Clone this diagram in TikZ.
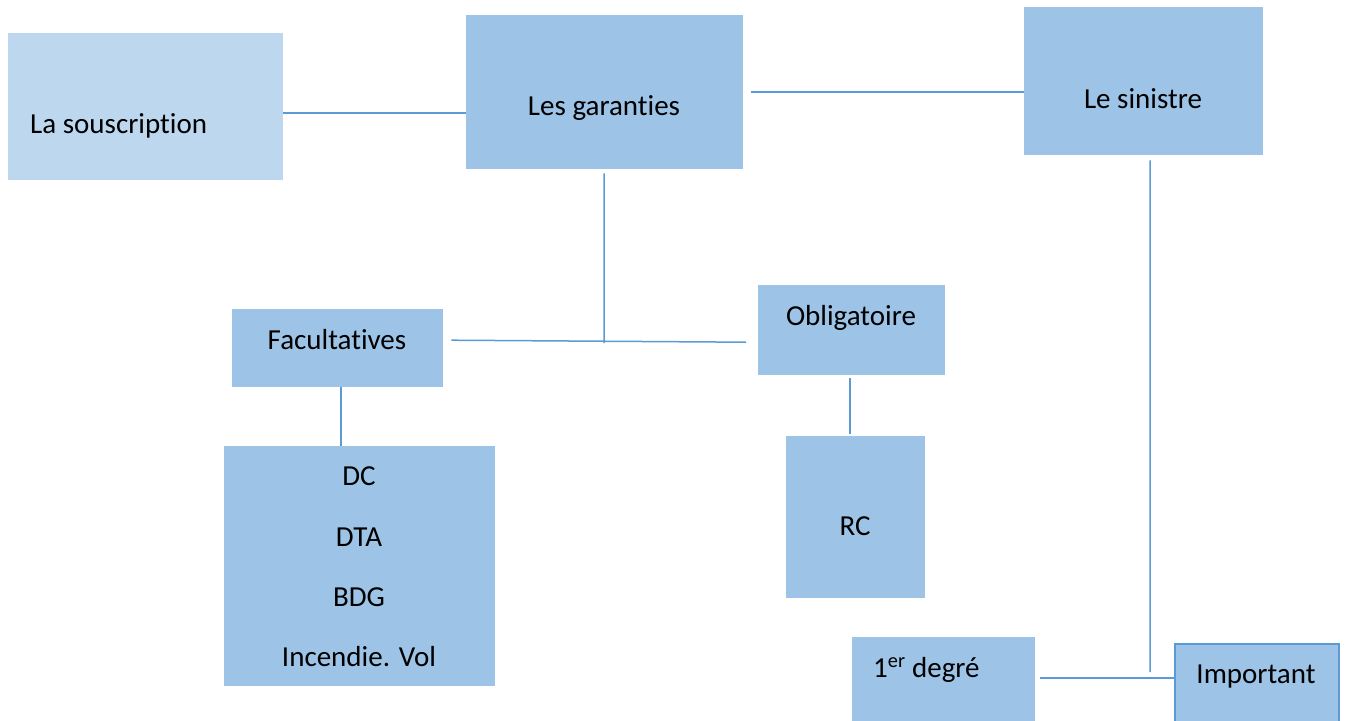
\documentclass[tikz,border=0pt]{standalone}
\usepackage{fontspec}
\setmainfont[Ligatures=NoCommon]{Carlito}
\definecolor{boxfill}{HTML}{9DC3E6}
\definecolor{boxlight}{HTML}{BDD7EE}
\definecolor{linec}{HTML}{5B9BD5}
\tikzset{
  box/.style={fill=boxfill, draw=none, anchor=north west, inner sep=0pt},
  lbl/.style={anchor=base, inner sep=0pt, font=\fontsize{29}{35}\selectfont},
  conn/.style={draw=linec, line width=1.5pt},
}
\begin{document}
\begin{tikzpicture}[x=1pt,y=-1pt]
\useasboundingbox (0,0) rectangle (1346,720);
% boxes
\node[box, fill=boxlight, minimum width=275pt, minimum height=147pt] (sous) at (8,33) {};
\node[box, minimum width=277pt, minimum height=154pt] (gar) at (466,15) {};
\node[box, minimum width=239pt, minimum height=148pt] (sin) at (1024,7) {};
\node[box, minimum width=211pt, minimum height=78pt] (fac) at (232,309) {};
\node[box, minimum width=187pt, minimum height=90pt] (obl) at (758,285) {};
\node[box, minimum width=271pt, minimum height=240pt] (dc) at (224,446) {};
\node[box, minimum width=139pt, minimum height=162pt] (rc) at (786,436) {};
\node[box, minimum width=183pt, minimum height=110pt] (deg) at (852,637) {};
\node[box, draw=linec, line width=2pt, minimum width=164pt, minimum height=110pt] (imp) at (1174,643) {};
% labels
\node[lbl, anchor=base west] (tsous) at (30,133) {La souscription};
\node[lbl] (tgar) at (604,115) {Les garanties};
\node[lbl] (tsin) at (1143,108) {Le sinistre};
\node[lbl] (tfac) at (337,349) {Facultatives};
\node[lbl] (tobl) at (851,325) {Obligatoire};
\node[lbl] (tdc) at (359,485) {DC};
\node[lbl] (tdta) at (359,546) {DTA};
\node[lbl] (tbdg) at (359,606) {BDG};
\node[lbl] (tinc) at (359,666) {Incendie. Vol};
\node[lbl] (trc) at (855,535) {RC};
\node[lbl, anchor=base west] (tdeg) at (873,677) {1\textsuperscript{er} degré};
\node[lbl] (timp) at (1256,683) {Important};
% connectors
\coordinate (c1) at ([shift={(0,6.5)}]sous.east);
\draw[conn] (c1) -- (c1 -| gar.west);
\coordinate (c2) at ([shift={(8,0)}]gar.east);
\draw[conn] (c2) -- (c2 -| sin.west);
\coordinate (j) at (604,343);
\draw[conn] ([shift={(-0.5,4)}]gar.south) -- (j);
\draw[conn] ([shift={(8,-8)}]fac.east) -- ([shift={(-12,12)}]obl.west);
\coordinate (c3) at ([shift={(-1.5,3)}]obl.south);
\draw[conn] (c3) -- ([shift={(0,-2)}]c3 |- rc.north);
\coordinate (c4) at ([shift={(3.5,0)}]fac.south);
\draw[conn] (c4) -- (c4 |- dc.north);
\coordinate (c5) at ([shift={(6.5,5)}]sin.south);
\coordinate (c6) at (1150,672);
\draw[conn] (c5) -- (c6);
\coordinate (c7) at (1040,678);
\draw[conn] (c7) -- (c7 -| imp.west);
\end{tikzpicture}
\end{document}
